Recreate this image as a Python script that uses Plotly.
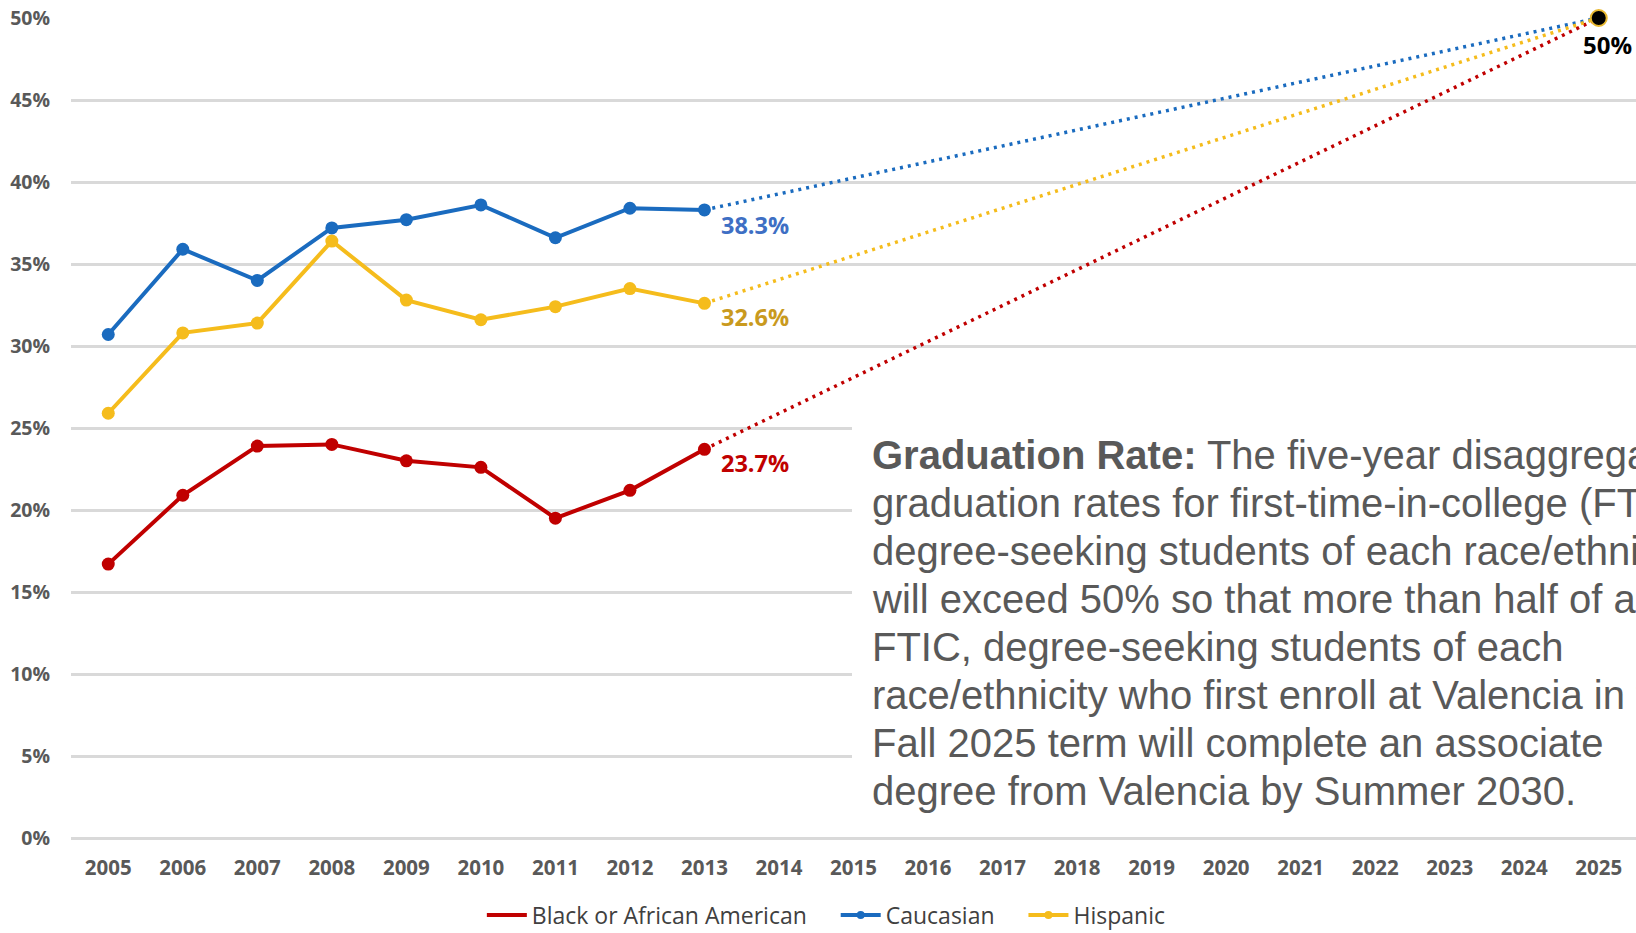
import plotly.graph_objects as go

years = [2005, 2006, 2007, 2008, 2009, 2010, 2011, 2012, 2013]
black = [16.7, 20.9, 23.9, 24.0, 23.0, 22.6, 19.5, 21.2, 23.7]
caucasian = [30.7, 35.9, 34.0, 37.2, 37.7, 38.6, 36.6, 38.4, 38.3]
hispanic = [25.9, 30.8, 31.4, 36.4, 32.8, 31.6, 32.4, 33.5, 32.6]
goal_year = 2025
goal_value = 50
all_years = list(range(2005, 2026))
y_ticks = list(range(0, 55, 5))

para_lines = [
    "<b>Graduation Rate:</b> The five-year disaggregated",
    "graduation rates for first-time-in-college (FTIC),",
    "degree-seeking students of each race/ethnicity",
    "will exceed 50% so that more than half of all",
    "FTIC, degree-seeking students of each",
    "race/ethnicity who first enroll at Valencia in the",
    "Fall 2025 term will complete an associate",
    "degree from Valencia by Summer 2030.",
]

RED = "#C00000"
BLUE = "#1A6BBF"
GOLD = "#F5BC1C"
LBL_RED = "#C00000"
LBL_BLUE = "#3E6FC4"
LBL_GOLD = "#C99A1E"

W, H = 1636, 933
ML, MR, MT, MB = 71, 0, 18, 95
plot_h = H - MT - MB

fig = go.Figure()

series = [
    ("Black or African American", black, RED, False),
    ("Caucasian", caucasian, BLUE, True),
    ("Hispanic", hispanic, GOLD, True),
]

# dotted projections (drawn first, below)
for name, vals, col, _ in series:
    fig.add_trace(go.Scatter(
        x=[years[-1], goal_year], y=[vals[-1], goal_value],
        mode="lines", line=dict(color=col, width=3.5, dash="3px,5px"),
        showlegend=False, hoverinfo="skip", cliponaxis=False))

for name, vals, col, _ in series:
    fig.add_trace(go.Scatter(
        x=years, y=vals, name=name, mode="lines+markers",
        line=dict(color=col, width=4),
        marker=dict(color=col, size=13),
        showlegend=False, cliponaxis=False))

# legend entries
pad = "\u00a0" * 4
for name, vals, col, mk in series:
    fig.add_trace(go.Scatter(
        x=[None], y=[None], name=name + pad,
        mode="lines+markers" if mk else "lines",
        line=dict(color=col, width=4),
        marker=dict(color=col, size=8)))

fig.add_trace(go.Scatter(
    x=[goal_year], y=[goal_value], mode="markers",
    marker=dict(color="black", size=16, line=dict(color="#E8B830", width=2)),
    showlegend=False, cliponaxis=False))

# white box behind paragraph hides gridlines
fig.add_shape(type="rect", xref="x", yref="y", x0=2014.98, x1=2026, y0=0.6, y1=27.2,
              fillcolor="white", line=dict(width=0), layer="above")

# end labels
for vals, col, ys in [(caucasian, LBL_BLUE, -15), (hispanic, LBL_GOLD, -14), (black, LBL_RED, -14)]:
    fig.add_annotation(x=years[-1], y=vals[-1], xref="x", yref="y",
                       text=f"<b>{vals[-1]:.1f}%</b>", showarrow=False,
                       xanchor="left", yanchor="middle", xshift=15, yshift=ys,
                       font=dict(family="Open Sans", size=23.5, color=col))

fig.add_annotation(x=goal_year, y=goal_value, xref="x", yref="y",
                   text=f"<b>{goal_value}%</b>", showarrow=False,
                   xanchor="left", yanchor="middle", xshift=-18, yshift=-26,
                   font=dict(family="Open Sans", size=24, color="black"))

# paragraph text
for i, line in enumerate(para_lines):
    yc = 455 + 48 * i
    fig.add_annotation(x=(870 - ML) / (W - ML - MR), y=(H - MB - yc) / plot_h,
                       xref="paper", yref="paper", text=line, showarrow=False,
                       xanchor="left", yanchor="middle",
                       font=dict(family="Liberation Sans, Arial", size=40, color="#595959"))

fig.update_layout(
    width=W, height=H,
    margin=dict(l=ML, r=MR, t=MT, b=MB, autoexpand=False),
    plot_bgcolor="white", paper_bgcolor="white",
    showlegend=True,
    legend=dict(orientation="h", x=0.490, xanchor="center", y=-0.094, yanchor="middle",
                font=dict(family="Open Sans", size=23, color="#404040"),
                itemwidth=40, tracegroupgap=0),
)
fig.update_xaxes(range=[2004.5, 2025.5], tickvals=all_years,
                 ticktext=[f"<b>{y}</b>" for y in all_years],
                 showgrid=False, zeroline=False, showline=False,
                 tickfont=dict(family="Open Sans", size=20.5, color="#595959"),
                 ticks="", ticklabelstandoff=15)
fig.update_yaxes(range=[0, 50], tickvals=y_ticks, ticktext=[f"<b>{v}%</b>" for v in y_ticks],
                 showgrid=True, gridcolor="#D9D9D9", gridwidth=2.5,
                 zeroline=True, zerolinecolor="#D9D9D9", zerolinewidth=2.5,
                 showline=False, ticks="", ticklabelstandoff=20,
                 tickfont=dict(family="Open Sans", size=19.5, color="#595959"))

fig.write_html("out.html", config={"displayModeBar": False},
               post_script="document.body.style.margin='0';")
